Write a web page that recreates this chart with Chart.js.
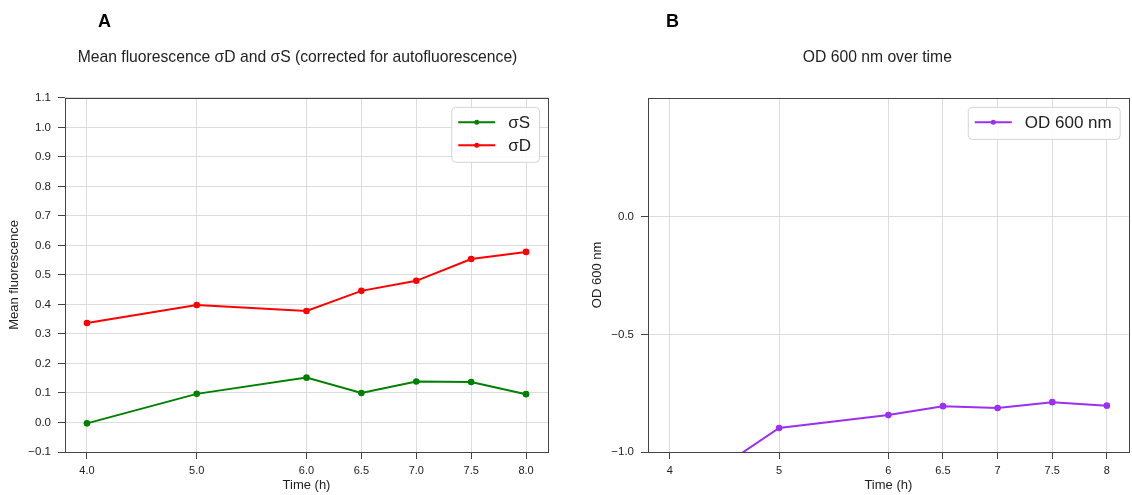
<!DOCTYPE html>
<html>
<head>
<meta charset="utf-8">
<script src="https://cdn.jsdelivr.net/npm/chart.js@4.4.1/dist/chart.umd.min.js"></script>
<style>
  body { margin: 0; background: #fff; overflow: hidden; font-family: "Liberation Sans", Arial, sans-serif; }
  .panel { position: absolute; top: 0; width: 566px; height: 495px; }
  .tag { position: absolute; top: 12px; font: bold 18px/18px "Liberation Sans", Arial, sans-serif; color: #000; }
</style>
</head>
<body>
<div class="panel" style="left:0"><canvas id="chartA" width="566" height="495"></canvas></div>
<div class="panel" style="left:566px"><canvas id="chartB" width="566" height="495"></canvas></div>
<div class="tag" style="left:98px">A</div>
<div class="tag" style="left:666px">B</div>
<script>
// panel A - mean fluorescence
const timeA = [4.0, 5.0, 6.0, 6.5, 7.0, 7.5, 8.0];
const sigmaS = [-0.003, 0.097, 0.152, 0.100, 0.139, 0.137, 0.096];
const sigmaD = [0.337, 0.398, 0.378, 0.446, 0.480, 0.554, 0.578];

// panel B - OD 600
const timeB = [4, 5, 6, 6.5, 7, 7.5, 8];
const od600 = [-1.21, -0.898, -0.843, -0.805, -0.813, -0.788, -0.803];

// tick labels
const xTicks = [4, 5, 6, 6.5, 7, 7.5, 8];
const yTicksA = [-0.1, 0.0, 0.1, 0.2, 0.3, 0.4, 0.5, 0.6, 0.7, 0.8, 0.9, 1.0, 1.1];
const yTicksB = [-1.0, -0.5, 0.0];

const FONT = '"Liberation Sans", Arial, sans-serif';
const TEXT = '#222';

const pts = (xs, ys) => xs.map((x, i) => ({ x: x, y: ys[i] }));
const minus = (s) => s.replace('-', '\u2212');

// box around the plot, like matplotlib spines
const frame = {
  id: 'frame',
  afterDatasetsDraw(chart) {
    const a = chart.chartArea;
    const ctx = chart.ctx;
    ctx.save();
    ctx.strokeStyle = '#444';
    ctx.lineWidth = 1;
    ctx.strokeRect(Math.round(a.left) + 0.5, Math.round(a.top) + 0.5,
      Math.round(a.right - a.left), Math.round(a.bottom - a.top));
    ctx.restore();
  }
};

// matplotlib centres the title a bit left of the axes centre here
const titleNudge = {
  id: 'titleNudge',
  afterLayout(chart, args, opts) {
    const t = chart.titleBlock;
    if (t) { t.left += opts.shift; t.right += opts.shift; }
  }
};

// legend in upper right corner of the plot area
const boxLegend = {
  id: 'boxLegend',
  afterDraw(chart) {
    const ctx = chart.ctx;
    const a = chart.chartArea;
    const sets = chart.data.datasets;
    ctx.save();
    ctx.font = '17px ' + FONT;
    const textW = Math.max(...sets.map((d) => ctx.measureText(d.label).width));
    const w = 7 + 37 + 13 + textW + 8;
    const h = 32 + (sets.length - 1) * 23;
    const x0 = a.right - 9 - w;
    const y0 = a.top + 9;
    ctx.beginPath();
    ctx.roundRect(x0 + 0.5, y0 + 0.5, w, h, 4);
    ctx.fillStyle = 'rgba(255,255,255,0.85)';
    ctx.fill();
    ctx.strokeStyle = '#d4d4d4';
    ctx.lineWidth = 1;
    ctx.stroke();
    sets.forEach((d, i) => {
      const cy = y0 + 15.5 + i * 23;
      ctx.strokeStyle = d.borderColor;
      ctx.lineWidth = 2;
      ctx.beginPath();
      ctx.moveTo(x0 + 7, cy);
      ctx.lineTo(x0 + 44, cy);
      ctx.stroke();
      ctx.fillStyle = d.borderColor;
      ctx.beginPath();
      ctx.arc(x0 + 25.5, cy, 2.5, 0, Math.PI * 2);
      ctx.fill();
      ctx.fillStyle = TEXT;
      ctx.textBaseline = 'middle';
      ctx.fillText(d.label, x0 + 57, cy + 1);
    });
    ctx.restore();
  }
};

function lineSet(label, data, color) {
  return {
    label: label,
    data: data,
    borderColor: color,
    backgroundColor: color,
    borderWidth: 2,
    pointRadius: 3.3,
    pointBorderWidth: 0,
    pointHoverRadius: 3.3,
    tension: 0
  };
}

function makeChart(id, cfg) {
  return new Chart(document.getElementById(id), {
    type: 'line',
    data: { datasets: cfg.datasets },
    options: {
      responsive: false,
      animation: false,
      layout: { padding: { left: 0, right: cfg.padRight, top: 0, bottom: 0 } },
      plugins: {
        legend: { display: false },
        tooltip: { enabled: false },
        titleNudge: { shift: cfg.titleShift },
        title: {
          display: true,
          text: cfg.title,
          fullSize: false,
          color: TEXT,
          font: { family: FONT, size: 15.7, weight: 'normal' },
          padding: { top: 48, bottom: 31 }
        }
      },
      scales: {
        x: {
          type: 'linear',
          min: 3.8,
          max: 8.2,
          afterBuildTicks: (s) => { s.ticks = xTicks.map((v) => ({ value: v })); },
          afterFit: (s) => { s.height = 43; s.paddingRight = 0; s.paddingLeft = 0; },
          ticks: {
            color: TEXT,
            font: { family: FONT, size: 11 },
            padding: 5,
            maxRotation: 0,
            callback: cfg.xFmt
          },
          grid: { color: '#dcdcdc', tickColor: '#444', tickLength: 7 },
          border: { display: false },
          title: {
            display: true,
            text: 'Time (h)',
            color: TEXT,
            font: { family: FONT, size: 13 },
            padding: { top: 0, bottom: 2 }
          }
        },
        y: {
          min: cfg.yMin,
          max: cfg.yMax,
          afterBuildTicks: (s) => { s.ticks = cfg.yTicks.map((v) => ({ value: v })); },
          afterFit: (s) => { s.width = cfg.yWidth; },
          ticks: {
            color: TEXT,
            font: { family: FONT, size: 11.5 },
            padding: 7,
            callback: (v) => minus(Number(v).toFixed(1))
          },
          grid: { color: '#dcdcdc', tickColor: '#444', tickLength: 7 },
          border: { display: false },
          title: {
            display: true,
            text: cfg.yTitle,
            color: TEXT,
            font: { family: FONT, size: 13 },
            padding: { top: cfg.yTitlePad, bottom: 0 }
          }
        }
      }
    },
    plugins: [frame, boxLegend, titleNudge]
  });
}

makeChart('chartA', {
  title: 'Mean fluorescence \u03c3D and \u03c3S (corrected for autofluorescence)',
  datasets: [
    lineSet('\u03c3S', pts(timeA, sigmaS), '#008000'),
    lineSet('\u03c3D', pts(timeA, sigmaD), '#ff0000')
  ],
  yMin: -0.1,
  yMax: 1.1,
  yTicks: yTicksA,
  yTitle: 'Mean fluorescence',
  yWidth: 65,
  yTitlePad: 7,
  padRight: 18,
  titleShift: -9,
  xFmt: (v) => Number(v).toFixed(1)
});

makeChart('chartB', {
  title: 'OD 600 nm over time',
  datasets: [
    lineSet('OD 600 nm', pts(timeB, od600), '#9b30f0')
  ],
  yMin: -1.0,
  yMax: 0.506,
  yTicks: yTicksB,
  yTitle: 'OD 600 nm',
  yWidth: 82,
  yTitlePad: 24,
  padRight: 2,
  titleShift: -11,
  xFmt: (v) => String(v)
});
</script>
</body>
</html>
